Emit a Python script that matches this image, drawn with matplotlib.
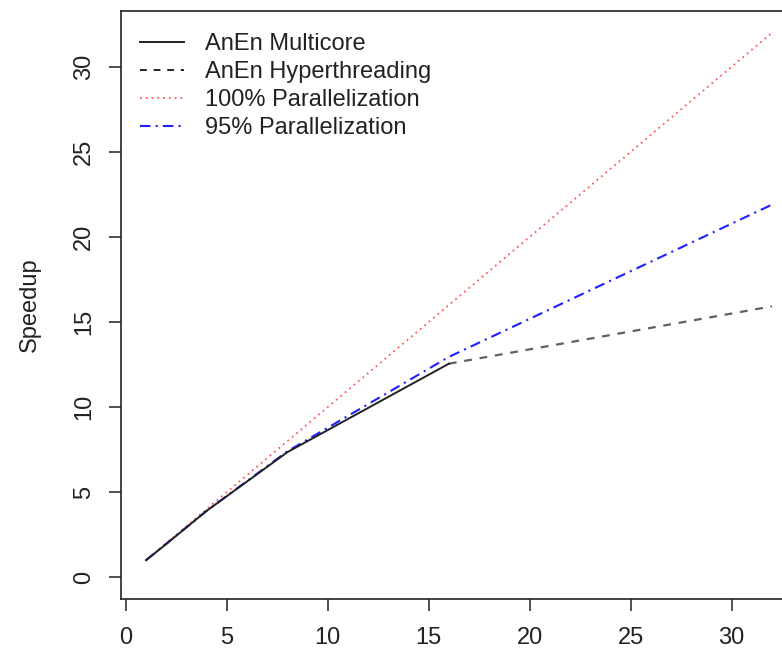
import matplotlib
matplotlib.use("Agg")
import matplotlib.pyplot as plt
from matplotlib.lines import Line2D

plt.rcParams['font.family'] = ['Liberation Sans', 'DejaVu Sans']

cores_multi = [1, 2, 4, 8, 16]
speedup_multi = [1.0, 1.95, 3.9, 7.35, 12.55]

cores_hyper = [16, 32]
speedup_hyper = [12.55, 15.92]

cores_ideal = [1, 2, 4, 8, 16, 32]
speedup_ideal = [1, 2, 4, 8, 16, 32]

cores_95 = [1, 2, 4, 8, 16, 32]
speedup_95 = [1.0, 1.97, 3.9, 7.4, 12.95, 21.9]

labels = ["AnEn Multicore", "AnEn Hyperthreading",
          "100% Parallelization", "95% Parallelization"]

W, H = 782, 654
fig = plt.figure(figsize=(W / 100, H / 100), dpi=100)
# the original plot box runs past the right edge of the picture
ax = fig.add_axes([121 / W, 55 / H, 676 / W, 588 / H])

ax.plot(cores_ideal, speedup_ideal, color='#ff5a5a', lw=1.3, linestyle=(0, (1, 2.2)))
ax.plot(cores_95, speedup_95, color='#2020ff', lw=1.5, linestyle=(0, (5, 2.5, 1, 2.5)))
ax.plot(cores_hyper, speedup_hyper, color='#606060', lw=1.6, linestyle=(0, (3.5, 3.5)))
ax.plot(cores_multi, speedup_multi, color='#222222', lw=1.4)

ax.set_xlim(-0.24, 33.24)
ax.set_ylim(-1.28, 33.28)
ax.set_xticks([0, 5, 10, 15, 20, 25, 30])
ax.set_yticks([0, 5, 10, 15, 20, 25, 30])
ax.tick_params(axis='both', labelsize=17, length=8.5, width=1.1, color='#222222',
               labelcolor='#222222')
ax.tick_params(axis='x', pad=12)
ax.tick_params(axis='y', pad=10)
for t in ax.get_yticklabels():
    t.set_rotation(90)
    t.set_va('center')
for s in ax.spines.values():
    s.set_linewidth(1.2)
    s.set_color('#222222')

ax.set_ylabel("Speedup", fontsize=17, labelpad=23, color='#222222')

handles = [
    Line2D([], [], color='#222222', lw=1.4),
    Line2D([], [], color='#222222', lw=1.4, linestyle=(0, (3.5, 3.5))),
    Line2D([], [], color='#ff5a5a', lw=1.3, linestyle=(0, (1, 2.2))),
    Line2D([], [], color='#2020ff', lw=1.5, linestyle=(0, (5, 2.5, 1, 2.5))),
]
leg = ax.legend(handles, labels, loc='upper left', frameon=False, fontsize=17,
                bbox_to_anchor=((140 - 121) / 676, 1 - (33 - 11) / 588),
                borderaxespad=0, borderpad=0, handlelength=1.85, handletextpad=0.9,
                labelspacing=0.26)
for t in leg.get_texts():
    t.set_color('#222222')

fig.savefig("out.png", dpi=100)
